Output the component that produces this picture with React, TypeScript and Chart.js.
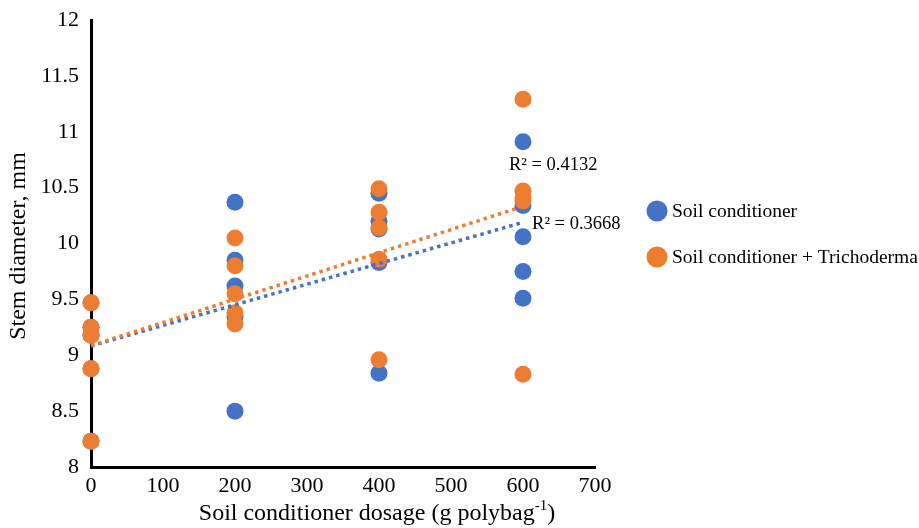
import { useEffect, useRef } from "react";
import { Chart, registerables } from "chart.js";

Chart.register(...registerables);

const doseLevels = [0, 200, 400, 600];
const soilConditioner = [
  [9.47, 9.25, 9.18, 8.88, 8.23],
  [10.37, 9.85, 9.62, 9.35, 8.5],
  [10.45, 10.2, 10.13, 9.83, 8.84],
  [10.91, 10.34, 10.06, 9.75, 9.51],
];
const soilConditionerTrichoderma = [
  [9.47, 9.25, 9.18, 8.88, 8.23],
  [10.05, 9.8, 9.55, 9.38, 9.28],
  [10.49, 10.28, 10.14, 9.86, 8.96],
  [11.29, 10.47, 10.41, 10.38, 8.83],
];
const seriesNames = ["Soil conditioner", "Soil conditioner + Trichoderma"];
const rSquaredLabels = ["R\u00B2 = 0.3668", "R\u00B2 = 0.4132"];
const xAxisTitle = "Soil conditioner dosage (g polybag";
const xAxisTitleSup = "-1";
const yAxisTitle = "Stem diameter, mm";

const BLUE = "#4472C4";
const ORANGE = "#ED7D31";
const FONT = '"Liberation Serif", "Times New Roman", serif';

function toPoints(values: number[][]) {
  return doseLevels.flatMap((d, i) => values[i].map((y) => ({ x: d, y })));
}

function trend(points: { x: number; y: number }[]) {
  const n = points.length;
  const mx = points.reduce((s, p) => s + p.x, 0) / n;
  const my = points.reduce((s, p) => s + p.y, 0) / n;
  let sxy = 0;
  let sxx = 0;
  points.forEach((p) => {
    sxy += (p.x - mx) * (p.y - my);
    sxx += (p.x - mx) * (p.x - mx);
  });
  const b = sxy / sxx;
  const a = my - b * mx;
  const x0 = doseLevels[0];
  const x1 = doseLevels[doseLevels.length - 1];
  return [
    { x: x0, y: a + b * x0 },
    { x: x1, y: a + b * x1 },
  ];
}

const textPlugin = {
  id: "customText",
  afterDatasetsDraw(chart: any) {
    const ctx = chart.ctx as CanvasRenderingContext2D;
    const xs = chart.scales.x;
    const ys = chart.scales.y;
    ctx.save();
    ctx.fillStyle = "#000";
    ctx.textBaseline = "middle";
    ctx.textAlign = "center";
    // R² labels
    ctx.font = `18.5px ${FONT}`;
    ctx.fillText(rSquaredLabels[1], xs.getPixelForValue(642), ys.getPixelForValue(10.7));
    ctx.fillText(rSquaredLabels[0], xs.getPixelForValue(674), ys.getPixelForValue(10.17));

    // legend
    const colors = [BLUE, ORANGE];
    const lx = chart.chartArea.right + 62;
    [211, 257].forEach((y, i) => {
      ctx.beginPath();
      ctx.fillStyle = colors[i];
      ctx.arc(lx, y, 10.5, 0, Math.PI * 2);
      ctx.fill();
      ctx.fillStyle = "#000";
      ctx.textAlign = "left";
      ctx.font = `19.5px ${FONT}`;
      ctx.fillText(seriesNames[i], lx + 15, y + 1);
    });

    // x axis title with superscript
    ctx.font = `24px ${FONT}`;
    const w1 = ctx.measureText(xAxisTitle).width;
    ctx.font = `15px ${FONT}`;
    const w2 = ctx.measureText(xAxisTitleSup).width;
    ctx.font = `24px ${FONT}`;
    const w3 = ctx.measureText(")").width;
    const total = w1 + w2 + w3;
    let tx = 377 - total / 2;
    const ty = 514;
    ctx.textAlign = "left";
    ctx.fillText(xAxisTitle, tx, ty);
    tx += w1;
    ctx.font = `15px ${FONT}`;
    ctx.fillText(xAxisTitleSup, tx, ty - 8);
    tx += w2;
    ctx.font = `24px ${FONT}`;
    ctx.fillText(")", tx, ty);

    // y axis title
    ctx.save();
    ctx.translate(19, 246);
    ctx.rotate(-Math.PI / 2);
    ctx.textAlign = "center";
    ctx.font = `24px ${FONT}`;
    ctx.fillText(yAxisTitle, 0, 0);
    ctx.restore();

    ctx.restore();
  },
};

export default function App() {
  const ref = useRef<HTMLCanvasElement>(null);
  useEffect(() => {
    document.body.style.margin = "0";
    const blue = toPoints(soilConditioner);
    const orange = toPoints(soilConditionerTrichoderma);
    const chart = new Chart(ref.current!, {
      type: "scatter",
      data: {
        datasets: [
          {
            label: seriesNames[0],
            data: blue,
            backgroundColor: BLUE,
            borderWidth: 0,
            pointRadius: 8.5,
            order: 3,
            clip: false,
          } as any,
          {
            label: seriesNames[1],
            data: orange,
            backgroundColor: ORANGE,
            borderWidth: 0,
            pointRadius: 8.5,
            order: 2,
            clip: false,
          } as any,
          {
            type: "line",
            label: "trend1",
            data: trend(blue),
            borderColor: BLUE,
            borderWidth: 3.5,
            borderDash: [3.5, 4],
            pointRadius: 0,
            showLine: true,
            fill: false,
            order: 1,
            clip: false,
          } as any,
          {
            type: "line",
            label: "trend2",
            data: trend(orange),
            borderColor: ORANGE,
            borderWidth: 3.5,
            borderDash: [3.5, 4],
            pointRadius: 0,
            showLine: true,
            fill: false,
            order: 0,
            clip: false,
          } as any,
        ],
      },
      options: {
        responsive: false,
        animation: false,
        layout: { padding: { top: 20, right: 324, left: 0, bottom: 0 } },
        plugins: {
          legend: { display: false },
          tooltip: { enabled: false },
        },
        scales: {
          x: {
            type: "linear",
            min: 0,
            max: 700,
            ticks: {
              stepSize: 100,
              color: "#000",
              padding: 6,
              font: { family: FONT, size: 22 },
            },
            grid: { display: false, drawTicks: false },
            border: { display: true, color: "#000", width: 3 },
            afterFit: (s: any) => {
              s.height = 61;
              s.paddingLeft = 0;
              s.paddingRight = 0;
            },
          },
          y: {
            type: "linear",
            min: 8,
            max: 12,
            ticks: {
              stepSize: 0.5,
              color: "#000",
              padding: 12,
              font: { family: FONT, size: 22 },
              callback: (v: any) => String(Number(v)),
            },
            grid: { display: false, drawTicks: false },
            border: { display: true, color: "#000", width: 3 },
            afterFit: (s: any) => {
              s.width = 91;
              s.paddingTop = 0;
              s.paddingBottom = 0;
            },
          },
        },
      },
      plugins: [textPlugin],
    });
    return () => chart.destroy();
  }, []);
  return <canvas ref={ref} width={919} height={528} />;
}
